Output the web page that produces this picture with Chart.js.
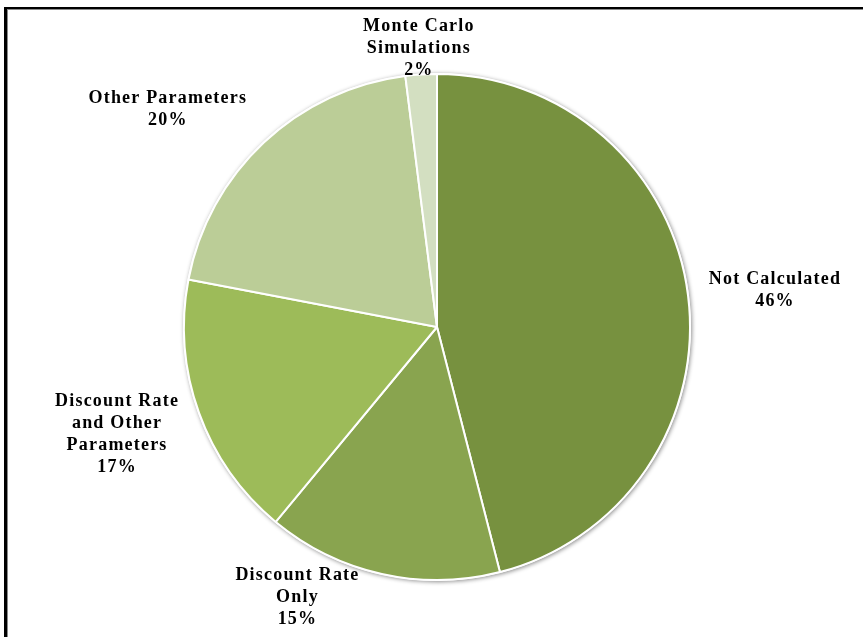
<!DOCTYPE html>
<html>
<head>
<meta charset="utf-8">
<script src="https://cdn.jsdelivr.net/npm/chart.js@4.4.1/dist/chart.umd.min.js"></script>
<style>
  html, body { margin: 0; padding: 0; background: #fff; overflow: hidden; }
  #wrap { position: relative; width: 863px; height: 637px; }
  #frame { position: absolute; left: 4px; top: 7px; width: 900px; height: 700px;
           border-left: 3px solid #000; border-top: 2px solid #000; }
  #frame-inner { position: absolute; left: 0; top: 0; width: 100%; height: 100%;
                 border-left: 1px solid #8a8a8a; border-top: 1px solid #8a8a8a; }
  canvas { position: absolute; left: 0; top: 0; }
</style>
</head>
<body>
<div id="wrap">
  <div id="frame"><div id="frame-inner"></div></div>
  <canvas id="chart" width="863" height="637"></canvas>
</div>
<script>
// Categories, clockwise from 12 o'clock
const categories = [
  ['Not Calculated'],
  ['Discount Rate', 'Only'],
  ['Discount Rate', 'and Other', 'Parameters'],
  ['Other Parameters'],
  ['Monte Carlo', 'Simulations']
];
// Share of respondents (%)
const shares = [46, 15, 17, 20, 2];
const sliceColors = ['#77913f', '#89a44f', '#9dbb59', '#bbcd97', '#d3dfc1'];

// Fine placement of each label block relative to its slice anchor (px)
const labelNudges = [[1, -2], [-80, -29], [-1, 15], [-3, 3], [-1, 27]];

// Soft grey rim under the pie
const pieShadow = {
  id: 'pieShadow',
  beforeDatasetsDraw(chart) {
    const arc = chart.getDatasetMeta(0).data[0];
    if (!arc) return;
    const ctx = chart.ctx;
    ctx.save();
    ctx.beginPath();
    ctx.arc(arc.x, arc.y, arc.outerRadius + 1, 0, Math.PI * 2);
    ctx.fillStyle = '#ffffff';
    ctx.shadowColor = 'rgba(0,0,0,0.45)';
    ctx.shadowBlur = 4;
    ctx.shadowOffsetX = 1;
    ctx.shadowOffsetY = 1;
    ctx.fill();
    ctx.restore();
  }
};

// Category name + percentage drawn outside each slice
const outsideLabels = {
  id: 'outsideLabels',
  afterDatasetsDraw(chart) {
    const ctx = chart.ctx;
    const meta = chart.getDatasetMeta(0);
    const data = chart.data.datasets[0].data;
    const total = data.reduce((a, b) => a + b, 0);
    const lineH = 22;
    ctx.save();
    ctx.font = 'bold 18px "Liberation Serif", "Times New Roman", serif';
    if ('letterSpacing' in ctx) ctx.letterSpacing = '1.2px';
    ctx.fillStyle = '#000';
    ctx.textAlign = 'center';
    ctx.textBaseline = 'middle';
    meta.data.forEach((arc, i) => {
      const mid = (arc.startAngle + arc.endAngle) / 2;
      const dx = Math.cos(mid), dy = Math.sin(mid);
      const r = arc.outerRadius + 20;
      const ax = arc.x + dx * r, ay = arc.y + dy * r;
      const lines = chart.data.labels[i].concat([Math.round(data[i] / total * 100) + '%']);
      const w = Math.max(...lines.map(t => ctx.measureText(t).width));
      const h = lines.length * lineH;
      let cx = ax, cy = ay;
      if (dx > 0.5) cx = ax + w / 2; else if (dx < -0.5) cx = ax - w / 2;
      if (dy > 0.5) cy = ay + h / 2; else if (dy < -0.5) cy = ay - h / 2;
      cx += labelNudges[i][0];
      cy += labelNudges[i][1];
      lines.forEach((t, k) => {
        ctx.fillText(t, cx, cy - h / 2 + lineH * (k + 0.5));
      });
    });
    ctx.restore();
  }
};

new Chart(document.getElementById('chart'), {
  type: 'pie',
  data: {
    labels: categories,
    datasets: [{
      data: shares,
      backgroundColor: sliceColors,
      borderColor: '#ffffff',
      borderWidth: 2,
      radius: 253
    }]
  },
  options: {
    responsive: false,
    animation: false,
    layout: { padding: { left: 100, right: 89, top: 74, bottom: 57 } },
    plugins: {
      legend: { display: false },
      tooltip: { enabled: false }
    }
  },
  plugins: [pieShadow, outsideLabels]
});
</script>
</body>
</html>
